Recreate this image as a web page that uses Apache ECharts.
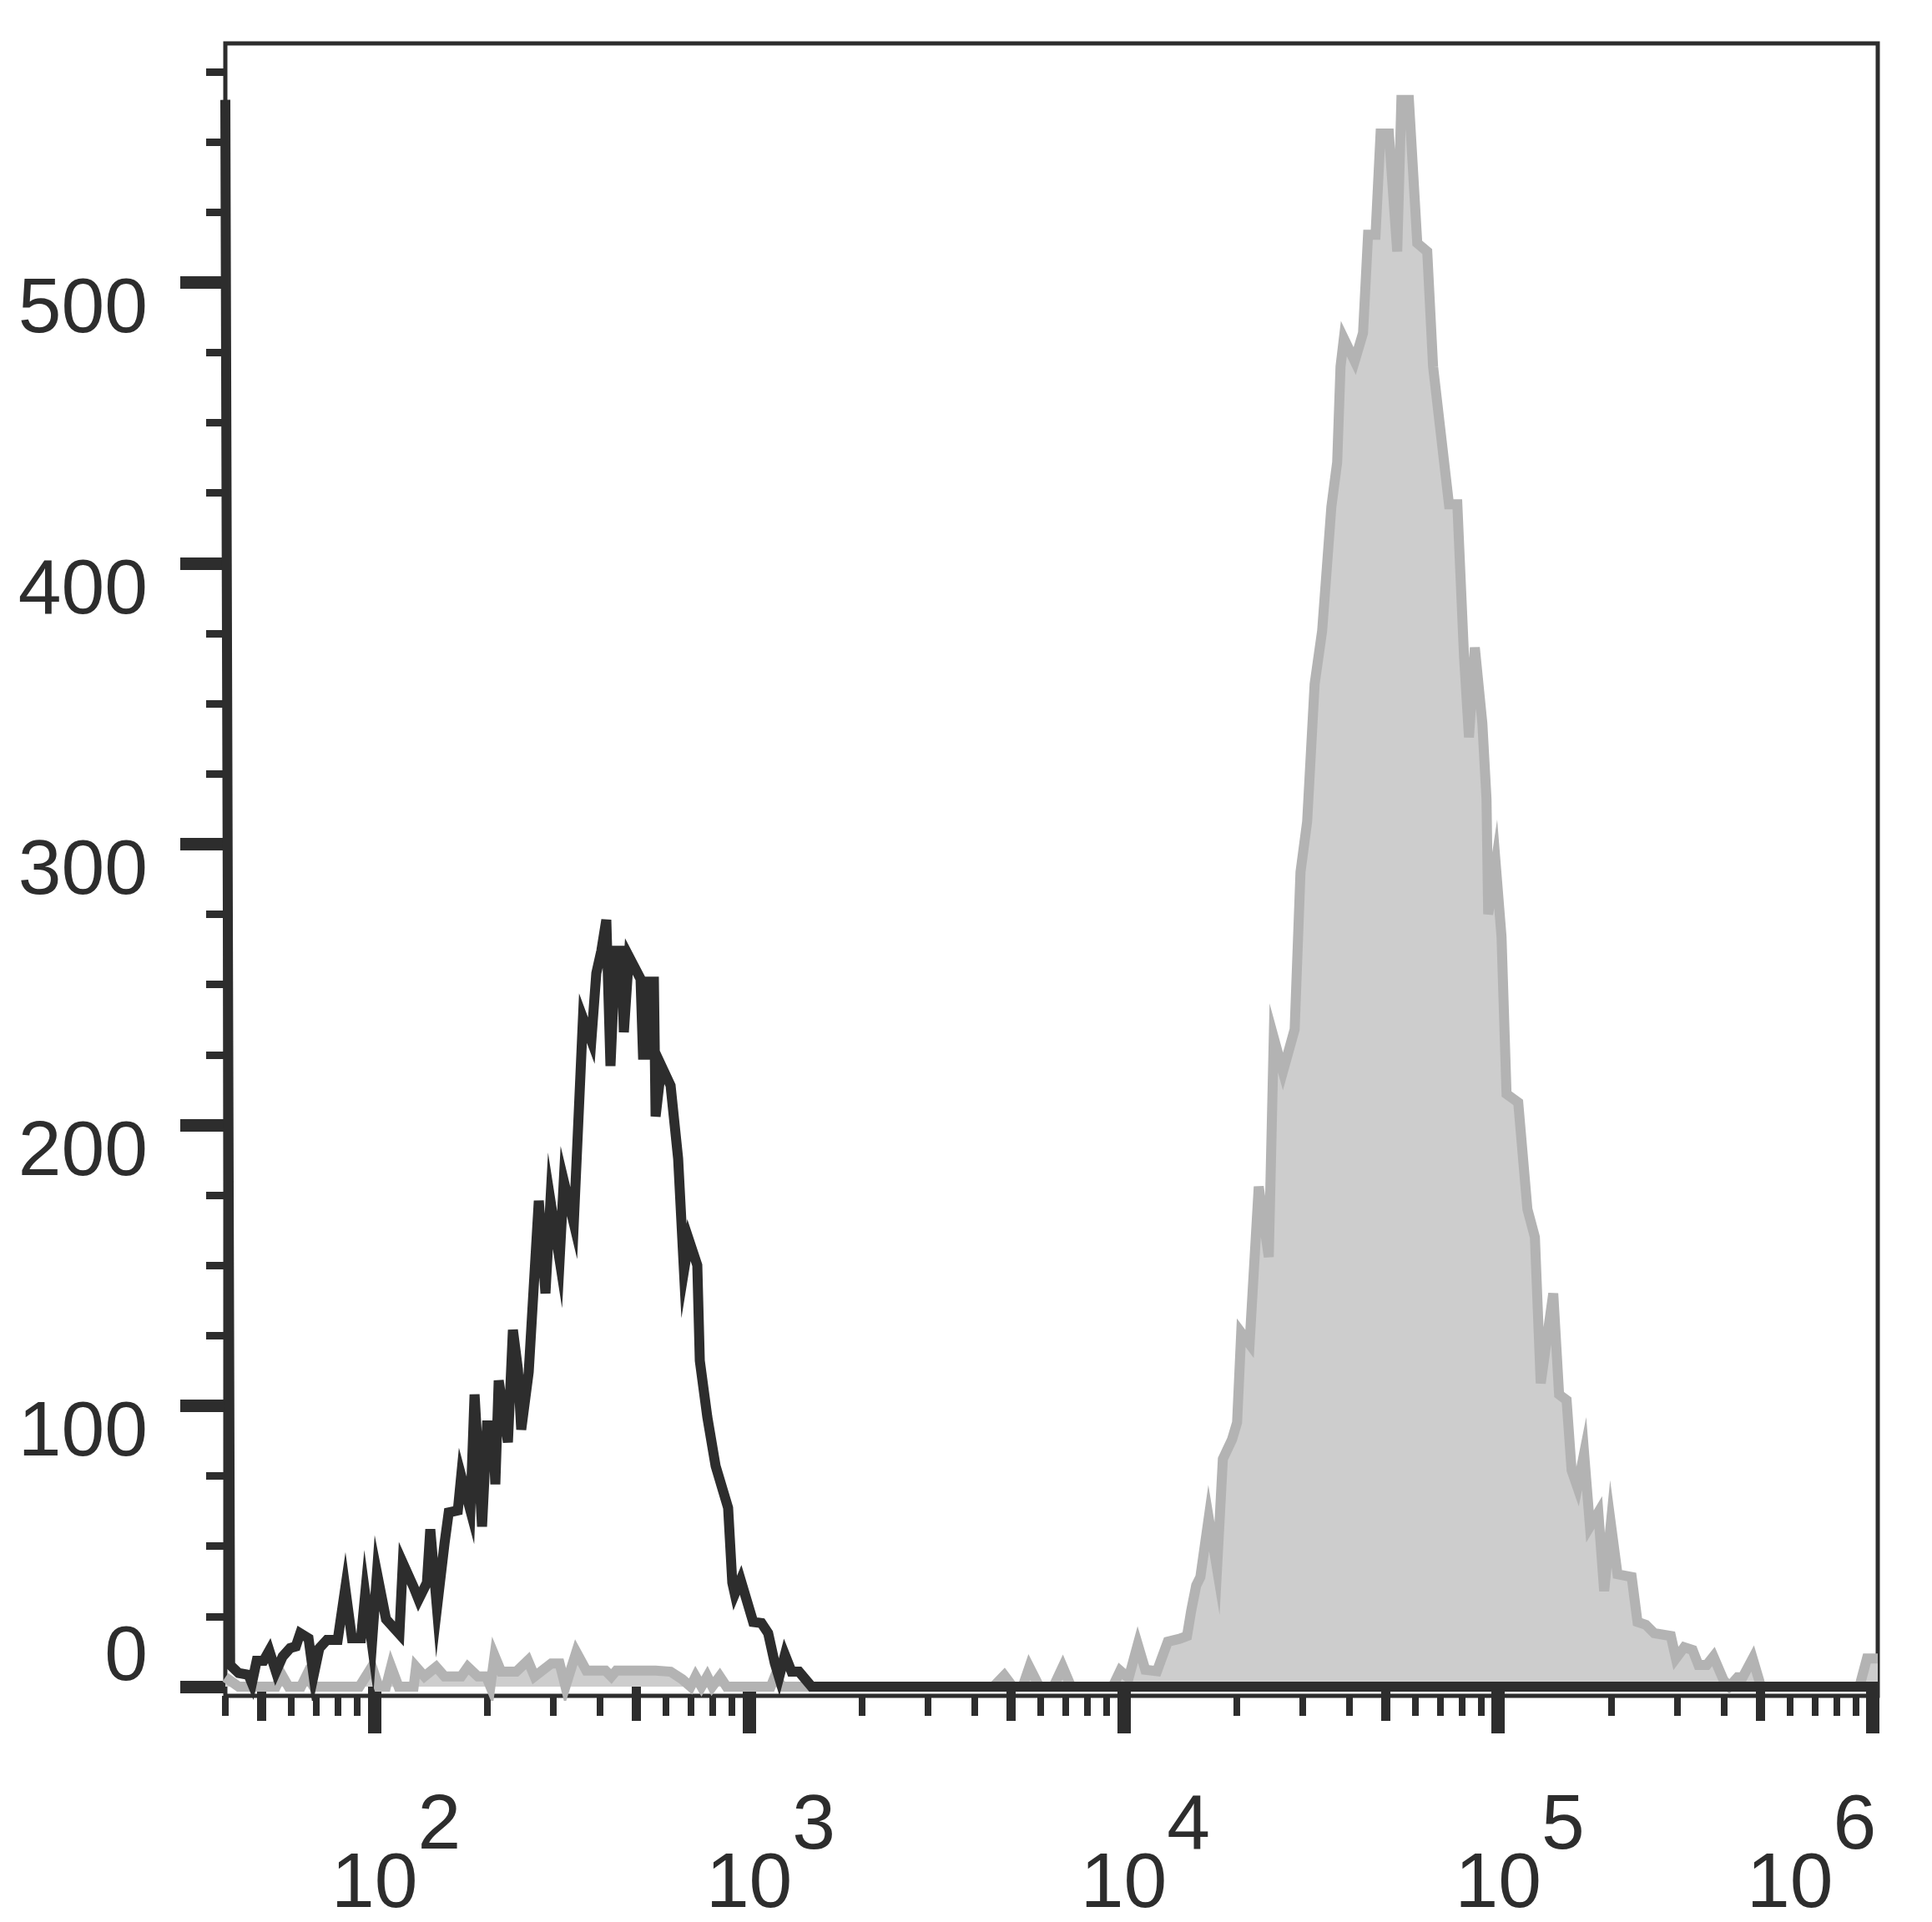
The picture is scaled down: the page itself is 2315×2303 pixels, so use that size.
<!DOCTYPE html>
<html><head><meta charset="utf-8">
<script src="https://cdn.jsdelivr.net/npm/echarts@6/dist/echarts.min.js"></script>
<style>html,body{margin:0;padding:0;background:#fff}#c{width:2315px;height:2303px}</style>
</head><body><div id="c"></div>
<script>
// ---- data ----
const blackX = [40, 41.2, 43.4, 46.1, 47.1, 48.5, 50.6, 52.4, 54.6, 56.9, 59.6, 61.7, 63.4, 66.7, 68.8, 71.3, 74.7, 79.8, 83.6, 87.1, 92.1, 94.5, 98.5, 101.6, 107.4, 116.6, 119.1, 127.3, 131.2, 138.1, 141.0, 146.9, 153.9, 157.9, 167.0, 170.5, 180.4, 185.1, 193.8, 199.8, 207.1, 210.3, 214.7, 227.2, 234.3, 241.6, 246.6, 258.2, 274.7, 286.2, 295.1, 312.2, 320.3, 340.6, 360.4, 379.4, 391.2, 403.5, 416.0, 426.8, 440.2, 456.3, 463.4, 477.9, 513.4, 521.3, 537.6, 543.3, 557.4, 563.2, 583.7, 617.6, 646.9, 670.5, 691.4, 727.8, 739.1, 773.9, 814.6, 879.6, 902.5, 916.5, 950.0, 1026, 1080, 1125, 1172, 1203, 1247, 1299, 1360, 1469, 1031000];
const blackY = [565, 7.7, 4.8, 4.2, 1.2, 9.2, 9.2, 12.8, 5.3, 10.7, 13.7, 14.3, 19, 17.2, 3.9, 13.7, 16.6, 16.6, 35, 17.2, 17.2, 33, 15.2, 40.4, 24, 18.7, 44, 35.4, 31, 37, 56, 28, 51, 62, 62.7, 75, 62.7, 104, 57, 93, 93, 72, 109, 87, 127, 113, 91.5, 112, 173, 140, 173, 152, 180, 165, 238, 230, 254, 262, 273, 221, 262, 262, 233, 260, 252, 225, 225, 251, 251, 203, 221, 214, 188, 148, 159, 150, 116, 96, 78.5, 63.6, 37, 33, 38, 23, 22.6, 19, 8.3, 3.3, 11.3, 5.3, 5.3, 0, 0];

const grayX = [40, 43.4, 54.6, 56.6, 59.0, 63.7, 66.0, 68.8, 91.2, 98.5, 102.6, 107.4, 110.8, 116.0, 127.3, 129.2, 136.0, 146.2, 153.9, 170.5, 177.6, 188.9, 198.8, 204.0, 209.3, 218.0, 239.1, 256.9, 267.7, 296.7, 312.2, 323.6, 345.9, 367.9, 413.9, 429.0, 442.5, 563.1, 617.4, 663.4, 698.4, 720.3, 746.6, 773.7, 798.0, 835.6, 870.9, 1143, 1172, 1228, 4494, 4803, 5056, 5377, 5603, 5957, 6500, 6878, 7239, 9354, 9795, 10313, 10911, 11426, 12279, 13122, 14100, 14768, 15151, 15625, 16030, 16874, 17760, 18408, 19478, 20090, 20606, 21692, 22950, 24407, 25170, 26630, 28618, 29664, 30903, 32359, 33893, 35859, 37170, 37940, 38726, 41395, 43572, 44938, 47054, 48529, 51073, 53761, 55154, 57764, 60814, 64656, 67023, 73896, 77796, 81050, 83560, 86620, 90727, 93071, 94040, 98470, 102070, 105270, 113110, 119670, 125310, 129890, 140280, 145410, 152270, 157040, 162780, 169580, 175790, 185060, 191830, 199860, 208230, 227160, 235470, 247880, 260930, 289070, 298140, 313770, 330370, 342370, 360410, 375490, 399300, 413900, 435700, 449400, 477900, 503000, 921300, 964700, 1031000];
const grayY = [3.3, 0, 0, 4.2, 0, 0, 4.2, 0, 0, 7.1, 0, 0, 7.1, 0, 0, 7, 3.6, 7, 3.6, 3.6, 7, 3.6, 3.6, 0, 11, 5.3, 5.3, 9.3, 3.6, 8.2, 8.2, 0, 12.3, 5.7, 5.7, 3.6, 5.7, 5.7, 5.3, 2.6, 0, 3.6, 0, 3.6, 0, 3.6, 0, 0, 3.6, 0, 0, 4, 0, 0, 7, 0, 0, 7, 0, 0, 5.6, 3, 15, 6, 5.5, 16, 17, 18, 27, 36, 39, 60, 42, 81, 88, 94, 126, 122, 178, 153, 231, 219, 234, 290, 308, 357, 376, 420, 436, 470, 480, 472, 482, 517, 517, 553, 553, 511, 565, 565, 514, 511, 470, 421, 421, 367, 338, 370, 343, 316, 275, 293, 267, 211, 208, 170, 160, 108, 140, 104, 102, 77, 71, 83, 57, 62, 34, 58, 40, 39, 23, 22, 19, 18, 10, 14, 13, 7.7, 7.7, 10.7, 2.4, 0, 3.3, 3.3, 10, 0, 0, 10, 10];

const yMajorTicks = [0, 100, 200, 300, 400, 500];
const yMinorTicks = [25, 50, 75, 125, 150, 175, 225, 250, 275, 325, 350, 375, 425, 450, 475, 525, 550, 575];
const xMajorTicks = [100, 1000, 10000, 100000, 1000000];
const xMidTicks = [50, 500, 5000, 50000, 500000];
const xMinorTicks = [40.01, 60, 70, 80, 90, 200, 300, 400, 600, 700, 800, 900, 2000, 3000, 4000, 6000, 7000, 8000, 9000, 20000, 30000, 40000, 60000, 70000, 80000, 90000, 200000, 300000, 400000, 600000, 700000, 800000, 900000];

// ---- chart ----
const dark = '#2d2d2d';
const font = '"Liberation Sans", Arial, Helvetica, sans-serif';
const X_MIN = 40, X_MAX = 1031000, Y_MIN = -3.3, Y_MAX = 585.1;
const FS = 93;

function xAx(ticks, len, w, label) {
  return {
    type: 'log', logBase: 10, min: X_MIN, max: X_MAX, gridIndex: 0, position: 'bottom', offset: 0,
    axisLine: { show: false }, splitLine: { show: false },
    minorTick: { show: false }, minorSplitLine: { show: false },
    axisTick: { show: true, customValues: ticks, length: len, lineStyle: { color: dark, width: w } },
    axisLabel: label || { show: false },
    axisPointer: { show: false }
  };
}
function yAx(ticks, len, w, label) {
  return {
    type: 'value', min: Y_MIN, max: Y_MAX, gridIndex: 0, position: 'left', offset: 0,
    axisLine: { show: false }, splitLine: { show: false },
    minorTick: { show: false }, minorSplitLine: { show: false },
    axisTick: { show: true, customValues: ticks, length: len, lineStyle: { color: dark, width: w } },
    axisLabel: label || { show: false },
    axisPointer: { show: false }
  };
}
const tok = (pad) => ({ fontSize: FS, fontFamily: font, color: dark, padding: pad });

const option = {
  animation: false,
  backgroundColor: '#ffffff',
  textStyle: { fontFamily: font },
  grid: { left: 270, right: 65, top: 52, bottom: 271, show: true, borderColor: dark, borderWidth: 5,
          backgroundColor: 'transparent', containLabel: false, outerBoundsMode: 'none' },
  xAxis: [
    xAx(xMajorTicks, 56, 16, {
      show: true, customValues: xMajorTicks, margin: 111, color: dark, fontFamily: font, fontSize: FS,
      formatter: v => { const e = Math.round(Math.log10(v)); return e === 6 ? '{b6|10}{e6|' + e + '}' : '{b|10}{e|' + e + '}'; },
      rich: { b: tok([70, 0, 0, 52]), e: tok([0, 0, 70, 0]), b6: tok([70, 0, 0, 0]), e6: tok([0, 147, 70, 0]) }
    }),
    xAx(xMidTicks, 41, 11),
    xAx(xMinorTicks, 24, 8)
  ],
  yAxis: [
    yAx(yMajorTicks, 54, 15, {
      show: true, customValues: yMajorTicks, margin: 93, color: dark, fontFamily: font, fontSize: FS,
      formatter: v => v === 0 ? '{z|0}' : '{t|' + v + '}',
      rich: { t: tok([68, 0, 0, 0]), z: tok([0, 0, 68, 0]) }
    }),
    yAx(yMinorTicks, 23, 9)
  ],
  series: [
    {
      name: 'gray', type: 'line', xAxisIndex: 0, yAxisIndex: 0, z: 2,
      data: grayX.map((x, i) => [x, grayY[i]]),
      showSymbol: false, symbol: 'none', smooth: false,
      lineStyle: { color: '#b3b3b3', width: 12, join: 'miter' },
      areaStyle: { color: '#cdcdcd', opacity: 1 }
    },
    {
      name: 'black', type: 'line', xAxisIndex: 0, yAxisIndex: 0, z: 3,
      data: blackX.map((x, i) => [x, blackY[i]]),
      showSymbol: false, symbol: 'none', smooth: false,
      lineStyle: { color: dark, width: 12, join: 'miter' }
    }
  ]
};
const chart = echarts.init(document.getElementById('c'), null, { renderer: 'canvas', width: 2315, height: 2303 });
chart.setOption(option);
</script>
</body></html>
